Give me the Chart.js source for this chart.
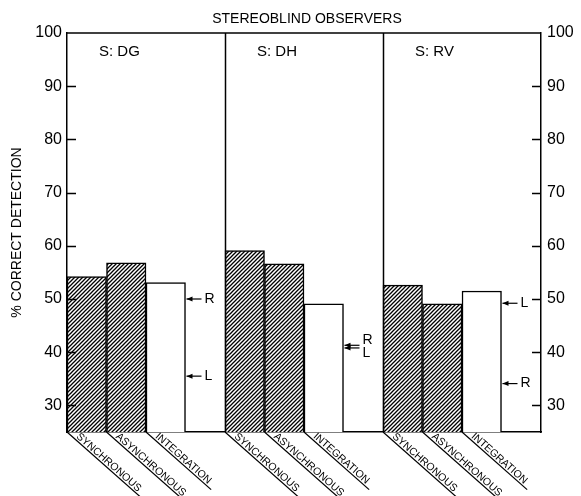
<!DOCTYPE html>
<html>
<head>
  <title>Stereoblind observers</title>
  <style>
    body { margin: 0; background: #fff; }
    #chart-box { width: 581px; height: 496px; }
  </style>
  <script src="https://cdn.jsdelivr.net/npm/chart.js"></script>
</head>
<body>
<div id="chart-box"><canvas id="chart"></canvas></div>
<script>
  const observers = ['S: DG', 'S: DH', 'S: RV'];
  const conditions = ['SYNCHRONOUS', 'ASYNCHRONOUS', 'INTEGRATION'];
  const synchronous = [54.2, 59.1, 52.6];
  const asynchronous = [56.8, 56.6, 49.1];
  const integration = [53.1, 49.1, 51.5];
  // arrows at the right of the integration bars
  const rightEye = [50.0, 41.3, 34.1];
  const leftEye = [35.5, 40.8, 49.2];
  const yTicks = [30, 40, 50, 60, 70, 80, 90, 100];

  // four slots per observer: three conditions and one empty gap
  const labels = [];
  const values = [];
  observers.forEach(function (obs, i) {
    labels.push(conditions[0], conditions[1], conditions[2], '');
    values.push(synchronous[i], asynchronous[i], integration[i], null);
  });

  const INK = '#000';
  const FONT = "'Liberation Sans', Arial, sans-serif";
  Chart.defaults.font.family = FONT;
  Chart.defaults.color = INK;

  function makeHatch() {
    const c = document.createElement('canvas');
    c.width = 4; c.height = 4;
    const g = c.getContext('2d');
    g.fillStyle = '#fff';
    g.fillRect(0, 0, 4, 4);
    g.strokeStyle = INK;
    g.lineWidth = 1.3;
    g.beginPath();
    g.moveTo(0, 4); g.lineTo(4, 0);
    g.moveTo(-1, 1); g.lineTo(1, -1);
    g.moveTo(3, 5); g.lineTo(5, 3);
    g.stroke();
    return g.createPattern(c, 'repeat');
  }
  const hatch = makeHatch();

  function arrow(ctx, xTip, y, len) {
    ctx.beginPath();
    ctx.moveTo(xTip, y);
    ctx.lineTo(xTip + len, y);
    ctx.stroke();
    ctx.beginPath();
    ctx.moveTo(xTip, y);
    ctx.lineTo(xTip + 6, y - 2.5);
    ctx.lineTo(xTip + 6, y + 2.5);
    ctx.closePath();
    ctx.fill();
  }

  const decor = {
    id: 'decor',
    afterDraw(chart) {
      const ctx = chart.ctx;
      const a = chart.chartArea;
      const xs = chart.scales.x;
      const ys = chart.scales.y;
      ctx.save();
      ctx.strokeStyle = INK;
      ctx.fillStyle = INK;
      ctx.lineWidth = 1.5;

      // top frame line
      ctx.beginPath();
      ctx.moveTo(a.left, a.top);
      ctx.lineTo(a.right, a.top);
      ctx.stroke();

      // panel dividers
      [3.5, 7.5].forEach(function (v) {
        const px = Math.round(xs.getPixelForValue(v)) + 0.5;
        ctx.beginPath();
        ctx.moveTo(px, a.top);
        ctx.lineTo(px, a.bottom);
        ctx.stroke();
      });

      // inward tick marks on both sides
      yTicks.forEach(function (v) {
        if (v === 100) return;
        const py = Math.round(ys.getPixelForValue(v)) + 0.5;
        ctx.beginPath();
        ctx.moveTo(a.left, py); ctx.lineTo(a.left + 9, py);
        ctx.moveTo(a.right - 9, py); ctx.lineTo(a.right, py);
        ctx.stroke();
      });

      // title and panel labels
      ctx.textBaseline = 'middle';
      ctx.textAlign = 'center';
      ctx.font = '14px ' + FONT;
      ctx.fillText('STEREOBLIND OBSERVERS', (a.left + a.right) / 2 + 3, 19);
      ctx.textAlign = 'left';
      ctx.font = '15px ' + FONT;
      observers.forEach(function (obs, i) {
        const left = xs.getPixelForValue(i * 4 - 0.5);
        ctx.fillText(obs, left + 32, 52);
      });

      // R / L arrows
      ctx.lineWidth = 1.2;
      ctx.font = '14px ' + FONT;
      observers.forEach(function (obs, i) {
        const xTip = xs.getPixelForValue(i * 4 + 2.5) + 1;
        const yR = ys.getPixelForValue(rightEye[i]);
        const yL = ys.getPixelForValue(leftEye[i]);
        arrow(ctx, xTip, yR, 15);
        arrow(ctx, xTip, yL, 15);
        let tR = yR, tL = yL;
        if (Math.abs(yR - yL) < 12) {
          const mid = (yR + yL) / 2;
          tR = (yR < yL) ? mid - 6.5 : mid + 6.5;
          tL = (yR < yL) ? mid + 6.5 : mid - 6.5;
        }
        ctx.fillText('R', xTip + 18, tR);
        ctx.fillText('L', xTip + 18, tL);
      });

      // slanted, underlined category labels
      ctx.font = '10.5px ' + FONT;
      ctx.textBaseline = 'alphabetic';
      ctx.lineWidth = 1.2;
      const ang = 41.5 * Math.PI / 180;
      labels.forEach(function (lab, i) {
        if (!lab) return;
        const x0 = xs.getPixelForValue(i - 0.5);
        const w = ctx.measureText(lab).width;
        ctx.save();
        ctx.translate(x0, a.bottom);
        ctx.rotate(ang);
        ctx.beginPath();
        ctx.moveTo(0, 0);
        ctx.lineTo(w + 16, 0);
        ctx.stroke();
        ctx.fillText(lab, 10, -2);
        ctx.restore();
      });
      ctx.restore();
    }
  };

  const tickFont = { family: FONT, size: 16 };

  new Chart(document.getElementById('chart'), {
    type: 'bar',
    data: {
      labels: labels,
      datasets: [{
        data: values,
        backgroundColor: values.map(function (v, i) { return i % 4 === 2 ? '#fff' : hatch; }),
        borderColor: INK,
        borderWidth: 1.5,
        categoryPercentage: 1,
        barPercentage: 1
      }]
    },
    options: {
      responsive: true,
      maintainAspectRatio: false,
      animation: false,
      layout: { padding: { top: 33, left: 0, right: 0, bottom: 0 } },
      plugins: { legend: { display: false }, tooltip: { enabled: false } },
      scales: {
        x: {
          ticks: { display: false },
          grid: { drawOnChartArea: false, drawTicks: false },
          border: { display: true, color: INK, width: 1.5 },
          afterFit: function (s) { s.height = 64; }
        },
        y: {
          position: 'left',
          min: 25,
          max: 100,
          afterBuildTicks: function (s) { s.ticks = yTicks.map(function (v) { return { value: v }; }); },
          afterFit: function (s) { s.width = 67; },
          grid: { drawOnChartArea: false, drawTicks: false },
          border: { display: true, color: INK, width: 1.5 },
          ticks: { color: INK, font: tickFont, padding: 5 },
          title: {
            display: true,
            text: '% CORRECT DETECTION',
            color: INK,
            font: { family: FONT, size: 14 },
            padding: { top: 9, bottom: 0 }
          }
        },
        y2: {
          position: 'right',
          min: 25,
          max: 100,
          afterBuildTicks: function (s) { s.ticks = yTicks.map(function (v) { return { value: v }; }); },
          afterFit: function (s) { s.width = 40; },
          grid: { drawOnChartArea: false, drawTicks: false },
          border: { display: true, color: INK, width: 1.5 },
          ticks: { color: INK, font: tickFont, padding: 6 }
        }
      }
    },
    plugins: [decor]
  });
</script>
</body>
</html>
